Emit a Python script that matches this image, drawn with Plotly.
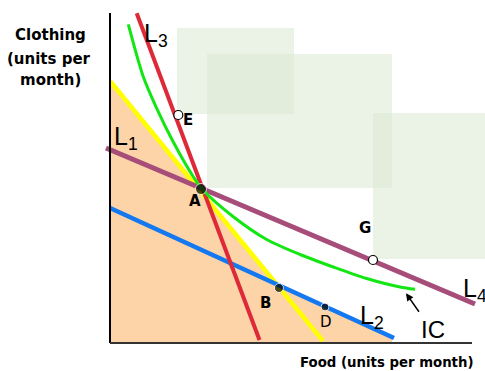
import plotly.graph_objects as go

# ---- data (Food on x, Clothing on y, arbitrary units) ----
budget_yellow_x = [0.0, 21.3]
budget_yellow_y = [26.2, 0.2]
L2_x = [0.0, 28.4]
L2_y = [13.5, 0.5]
L3_x = [2.67, 14.95]
L3_y = [32.97, 0.3]
L1_x = [-0.4, 36.5]
L1_y = [19.5, 3.9]
IC_x = [1.83, 3.33, 4.67, 6.33, 8.33, 9.3, 12.33, 15.67, 19.0, 22.33, 25.67, 29.0, 30.5]
IC_y = [31.87, 26.63, 23.47, 20.1, 16.63, 15.3, 12.63, 10.35, 8.85, 7.6, 6.45, 5.6, 5.37]
shade_x = [0.0, 0.0, 16.9, 28.2, 28.2]
shade_y = [0.0, 26.2, 5.6, 0.5, 0.0]
filled_names = ["A", "B", "D"]
filled_x = [9.1, 16.9, 21.5]
filled_y = [15.4, 5.5, 3.6]
filled_size = [11, 9, 8]
open_names = ["E", "G"]
open_x = [6.83, 26.3]
open_y = [22.8, 8.3]
rects = [(6.7, 22.9, 18.4, 31.5), (9.7, 15.5, 28.2, 28.9), (26.3, 8.4, 39.0, 23.0)]

fig = go.Figure()

fig.add_trace(go.Scatter(x=shade_x, y=shade_y, fill="toself", mode="lines",
                         line=dict(width=0), fillcolor="#FDD3A8", hoverinfo="skip"))
fig.add_trace(go.Scatter(x=budget_yellow_x, y=budget_yellow_y, mode="lines",
                         line=dict(color="#FFFF00", width=4.5)))
fig.add_trace(go.Scatter(x=L2_x, y=L2_y, mode="lines",
                         line=dict(color="#1478F0", width=4.5)))
fig.add_trace(go.Scatter(x=L3_x, y=L3_y, mode="lines",
                         line=dict(color="#DE2A38", width=4)))
fig.add_trace(go.Scatter(x=L1_x, y=L1_y, mode="lines",
                         line=dict(color="#A64D79", width=5)))
fig.add_trace(go.Scatter(x=IC_x, y=IC_y, mode="lines",
                         line=dict(color="#14E614", width=3, shape="spline", smoothing=0.8)))
fig.add_trace(go.Scatter(x=filled_x, y=filled_y, mode="markers",
                         marker=dict(color="black", size=filled_size)))
fig.add_trace(go.Scatter(x=open_x, y=open_y, mode="markers",
                         marker=dict(color="white", size=9, line=dict(color="black", width=1.2))))

for x0, y0, x1, y1 in rects:
    fig.add_shape(type="rect", x0=x0, y0=y0, x1=x1, y1=y1, layer="below",
                  line=dict(width=0), fillcolor="rgba(219,233,210,0.55)")

# axes
fig.add_shape(type="line", x0=0, y0=0, x1=0, y1=33.0, line=dict(color="black", width=2))
fig.add_shape(type="line", x0=0, y0=0, x1=36.2, y1=0, line=dict(color="#333333", width=2))

bold = dict(family="DejaVu Sans", size=15, color="black")
def ann(x, y, text, font, xanchor="center", yanchor="middle"):
    fig.add_annotation(x=x, y=y, text=text, showarrow=False, font=font,
                       xanchor=xanchor, yanchor=yanchor)

# axis titles
ann(-6.0, 30.8, "<b>Clothing</b>", bold)
ann(-6.1, 28.45, "<b>(units per</b>", bold)
ann(-6.0, 26.3, "<b>month)</b>", bold)
ann(27.7, -1.9, "<b>Food (units per month)</b>", dict(family="DejaVu Sans", size=13.3, color="black"))

# point labels
lab = dict(family="DejaVu Sans", size=15, color="black")
ann(8.5, 14.2, "<b>A</b>", lab)
ann(7.8, 22.3, "<b>E</b>", lab)
ann(25.45, 11.55, "<b>G</b>", lab)
ann(15.5, 4.0, "<b>B</b>", lab)
ann(21.6, 2.1, "D", dict(family="DejaVu Sans", size=15, color="black"))

# line labels
big = dict(family="Liberation Sans", size=25, color="black")
ann(3.2, 30.8, "L<sub>3</sub>", big, xanchor="left")
ann(0.2, 20.5, "L<sub>1</sub>", big, xanchor="left")
ann(35.1, 5.3, "L<sub>4</sub>", big, xanchor="left")
ann(24.8, 2.6, "L<sub>2</sub>", big, xanchor="left")
ann(32.3, 1.4, "IC", dict(family="Liberation Sans", size=24, color="black"))

# arrow pointing at IC
fig.add_annotation(x=29.6, y=4.97, ax=14, ay=20, axref="pixel", ayref="pixel",
                   showarrow=True, arrowhead=2, arrowsize=1, arrowwidth=1.5,
                   arrowcolor="black", text="")

fig.update_layout(width=485, height=371, margin=dict(l=0, r=0, t=0, b=0),
                  paper_bgcolor="white", plot_bgcolor="white", showlegend=False,
                  xaxis=dict(range=[-11.0, 37.5], visible=False, fixedrange=True),
                  yaxis=dict(range=[-2.8, 34.3], visible=False, fixedrange=True))

fig.write_html(
    "out.html",
    config={"displayModeBar": False},
    post_script=("document.body.style.margin='0';"
                 "document.body.style.overflow='hidden';"
                 "document.documentElement.style.overflow='hidden';"),
)
